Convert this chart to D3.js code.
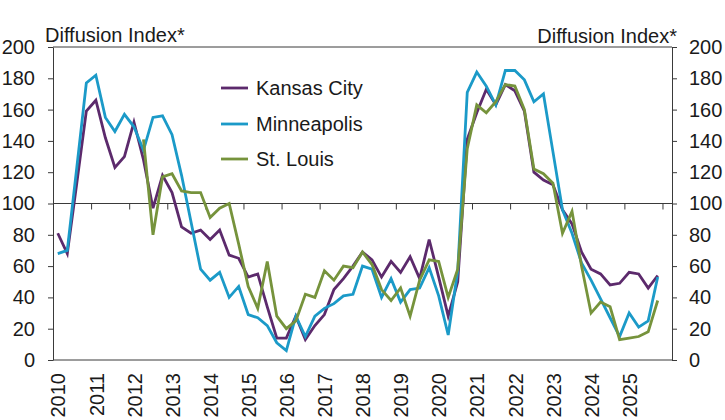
<!DOCTYPE html>
<html>
<head>
<meta charset="utf-8">
<script src="https://cdn.jsdelivr.net/npm/d3@7"></script>
<style>
  body { margin: 0; background: #fff; }
  svg text { font-family: "Liberation Sans", Arial, sans-serif; fill: #1a1a1a; }
</style>
</head>
<body>
<svg id="chart"></svg>
<script>
//year labels on the x axis, one per year (each year has 4 quarters)
let years = [2010, 2011, 2012, 2013, 2014, 2015, 2016, 2017,
             2018, 2019, 2020, 2021, 2022, 2023, 2024, 2025];
let quarters = [];
years.forEach(y => ['Q1', 'Q2', 'Q3', 'Q4'].forEach(q => quarters.push(y + q)));

//diffusion index, quarterly from 2010Q1 to 2025Q4
let kansasCity = [
  81, 68, 113, 159, 166, 142, 123, 130, 152, 128, 97, 118, 107, 85, 81, 83,
  77, 83, 67, 65, 53, 55, 34, 14, 14, 28, 13, 22, 29, 45, 52, 60,
  69, 64, 53, 63, 56, 66, 52, 77, 53, 28, 50, 141, 158, 173, 163, 176,
  172, 159, 120, 115, 112, 96, 87, 69, 58, 55, 48, 49, 56, 55, 46, 54
];
let minneapolis = [
  68, 70, 123, 177, 182, 155, 146, 157, 149, 134, 155, 156, 144, 118, 88, 58,
  51, 56, 40, 47, 29, 27, 22, 11, 6, 28, 15, 28, 33, 36, 41, 42,
  60, 58, 40, 52, 37, 45, 46, 59, 41, 16, 57, 171, 184, 175, 163, 185,
  185, 179, 165, 170, 133, 96, 81, 62, 51, 39, 27, 15, 30, 21, 25, 53
];
let stLouis = [
  null, null, null, null, null, null, null, null, null, 141, 80, 117, 119, 108, 107, 107,
  91, 97, 100, 74, 47, 33, 63, 28, 20, 25, 42, 40, 57, 51, 60, 59,
  69, 61, 45, 38, 46, 28, 51, 64, 63, 40, 58, 135, 163, 158, 165, 176,
  175, 160, 122, 119, 113, 81, 95, 60, 30, 37, 34, 13, 14, 15, 18, 38
];

let seriesNames = ['Kansas City', 'Minneapolis', 'St. Louis'];
let seriesColors = ['#5c2a6c', '#1b9ac8', '#76933c'];
let seriesValues = [kansasCity, minneapolis, stLouis];

let yTicks = [0, 20, 40, 60, 80, 100, 120, 140, 160, 180, 200];
let axisTitle = 'Diffusion Index*';

//svg dimensions
let width = 725;
let height = 420;
let plotLeft = 53;
let plotRight = 672;
let plotTop = 47;
let plotBottom = 360;

let svg = d3.select('#chart')
  .attr('width', width)
  .attr('height', height);

//one slot per quarter plus one empty slot at the end
let xScale = d3.scaleLinear()
  .domain([0, quarters.length + 1])
  .range([plotLeft, plotRight]);

let yScale = d3.scaleLinear()
  .domain([0, 200])
  .range([plotBottom, plotTop]);

let axisColor = '#3a3a3a';
let fontSize = 20;

let styleAxis = g => {
  g.attr('font-size', fontSize)
   .attr('font-family', '"Liberation Sans", Arial, sans-serif')
   .style('color', axisColor);
  g.selectAll('text').style('fill', '#1a1a1a');
};

//top and bottom frame lines
svg.append('line')
  .attr('x1', plotLeft).attr('x2', plotRight)
  .attr('y1', yScale(200)).attr('y2', yScale(200))
  .attr('stroke', axisColor);
svg.append('line')
  .attr('x1', plotLeft).attr('x2', plotRight)
  .attr('y1', yScale(0)).attr('y2', yScale(0))
  .attr('stroke', axisColor);

//left and right axes
svg.append('g')
  .attr('transform', 'translate(' + plotLeft + ',0)')
  .call(d3.axisLeft(yScale).tickValues(yTicks).tickSize(5).tickSizeOuter(0).tickPadding(13))
  .call(styleAxis);

svg.append('g')
  .attr('transform', 'translate(' + plotRight + ',0)')
  .call(d3.axisRight(yScale).tickValues(yTicks).tickSize(5).tickSizeOuter(0).tickPadding(12))
  .call(styleAxis);

//line at 100 with year boundary ticks
svg.append('g')
  .attr('transform', 'translate(0,' + yScale(100) + ')')
  .call(d3.axisBottom(xScale)
    .tickValues(d3.range(0, quarters.length + 1, 4))
    .tickSize(6).tickSizeOuter(0).tickFormat(''))
  .call(styleAxis)
  .select('.domain').attr('d', 'M' + plotLeft + ',0H' + plotRight);

//rotated year labels under the plot
let yearAxis = svg.append('g')
  .attr('transform', 'translate(0,' + yScale(0) + ')')
  .call(d3.axisBottom(xScale)
    .tickValues(years.map((y, k) => k * 4 + 0.5))
    .tickFormat((d, k) => years[k])
    .tickSize(0).tickSizeOuter(0))
  .call(styleAxis);
yearAxis.select('.domain').remove();
yearAxis.selectAll('text')
  .attr('transform', 'rotate(-90)')
  .attr('x', -13)
  .attr('y', 0)
  .attr('dy', '0.36em')
  .style('text-anchor', 'end');

//axis titles
svg.append('text')
  .attr('x', 45).attr('y', 42)
  .attr('font-size', fontSize)
  .text(axisTitle);
svg.append('text')
  .attr('x', 677).attr('y', 43)
  .attr('font-size', fontSize)
  .attr('text-anchor', 'end')
  .text(axisTitle);

//series lines
let line = d3.line()
  .defined(d => d != null)
  .x((d, i) => xScale(i + 0.5))
  .y(d => yScale(d));

seriesValues.forEach((values, s) => {
  svg.append('path')
    .datum(values)
    .attr('fill', 'none')
    .attr('stroke', seriesColors[s])
    .attr('stroke-width', 2.8)
    .attr('d', line);
});

//legend
let legendY = [88, 124, 159];
seriesNames.forEach((name, s) => {
  let g = svg.append('g').attr('transform', 'translate(221,' + legendY[s] + ')');
  g.append('line')
    .attr('x1', 0).attr('x2', 27)
    .attr('stroke', seriesColors[s])
    .attr('stroke-width', 2.8);
  g.append('text')
    .attr('x', 35).attr('dy', '0.35em')
    .attr('font-size', fontSize)
    .text(name);
});
</script>
</body>
</html>
